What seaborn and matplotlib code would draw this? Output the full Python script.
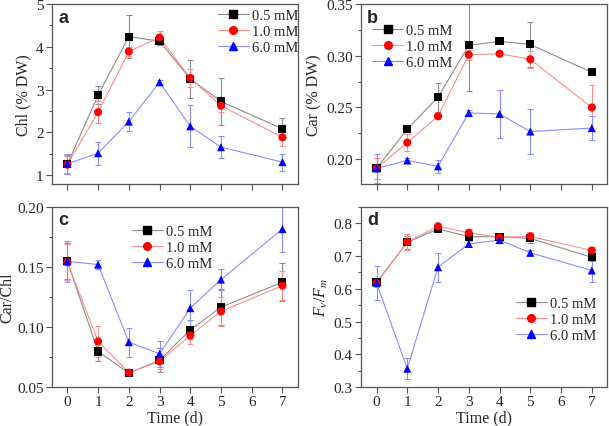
import numpy as np
import pandas as pd
import matplotlib
matplotlib.use("Agg")
import matplotlib.pyplot as plt
from matplotlib.lines import Line2D
from matplotlib.ticker import MultipleLocator
import seaborn as sns

days = [0, 1, 2, 3, 4, 5, 7]
treatments = ["0.5 mM", "1.0 mM", "6.0 mM"]

# Chl (% DW)
chl_05 = [1.25, 2.87, 4.24, 4.13, 3.25, 2.72, 2.08]
chl_10 = [1.24, 2.47, 3.89, 4.22, 3.27, 2.62, 1.88]
chl_60 = [1.26, 1.51, 2.25, 3.17, 2.14, 1.65, 1.30]
chl_05_err = [0.22, 0.22, 0.50, 0.08, 0.45, 0.54, 0.25]
chl_10_err = [0.20, 0.25, 0.10, 0.16, 0.20, 0.15, 0.20]
chl_60_err = [0.23, 0.27, 0.23, 0.05, 0.49, 0.26, 0.20]

# Car (% DW)
car_05 = [0.191, 0.229, 0.260, 0.310, 0.314, 0.311, 0.284]
car_10 = [0.191, 0.216, 0.2415, 0.301, 0.302, 0.2966, 0.250]
car_60 = [0.191, 0.1987, 0.193, 0.2447, 0.2437, 0.2267, 0.230]
car_05_err = [0.010, 0.003, 0.014, 0.044, 0.002, 0.022, 0.002]
car_10_err = [0.010, 0.008, 0.003, 0.005, 0.002, 0.008, 0.022]
car_60_err = [0.014, 0.002, 0.006, 0.003, 0.023, 0.022, 0.012]

# Car/Chl
ratio_05 = [0.1547, 0.0796, 0.0616, 0.0722, 0.0976, 0.1165, 0.1373]
ratio_10 = [0.154, 0.088, 0.062, 0.0713, 0.093, 0.113, 0.1345]
ratio_60 = [0.1547, 0.152, 0.0874, 0.0777, 0.1157, 0.1395, 0.1816]
ratio_05_err = [0.015, 0.008, 0.002, 0.010, 0.008, 0.015, 0.016]
ratio_10_err = [0.015, 0.013, 0.002, 0.006, 0.007, 0.012, 0.012]
ratio_60_err = [0.017, 0.004, 0.012, 0.011, 0.015, 0.009, 0.019]

# Fv/Fm
fvfm_05 = [0.620, 0.742, 0.783, 0.759, 0.759, 0.754, 0.696]
fvfm_10 = [0.617, 0.743, 0.791, 0.771, 0.757, 0.760, 0.717]
fvfm_60 = [0.618, 0.356, 0.666, 0.737, 0.749, 0.710, 0.656]
fvfm_05_err = [0.010, 0.020, 0.008, 0.010, 0.008, 0.015, 0.010]
fvfm_10_err = [0.010, 0.025, 0.008, 0.012, 0.008, 0.012, 0.010]
fvfm_60_err = [0.053, 0.033, 0.044, 0.010, 0.008, 0.008, 0.036]

sns.set_style("ticks")
plt.rcParams["font.family"] = ["Liberation Serif", "DejaVu Serif"]
plt.rcParams["mathtext.fontset"] = "custom"
plt.rcParams["mathtext.it"] = "Liberation Serif:italic"
plt.rcParams["mathtext.rm"] = "Liberation Serif"
plt.rcParams["font.size"] = 10

dark = {"0.5 mM": "black", "1.0 mM": "red", "6.0 mM": "blue"}
light = {"0.5 mM": "#8c8c8c", "1.0 mM": "#ff8c8c", "6.0 mM": "#8c8cff"}
markers = {"0.5 mM": "s", "1.0 mM": "o", "6.0 mM": "^"}


def make_df(vals, errs):
    rows = []
    for t, v, e in zip(treatments, vals, errs):
        for d, y, err in zip(days, v, e):
            rows.append({"day": d, "value": y, "err": err, "treatment": t})
    return pd.DataFrame(rows)


panels = [
    ("a", make_df([chl_05, chl_10, chl_60], [chl_05_err, chl_10_err, chl_60_err]),
     "Chl (% DW)", (0.79, 5.0), 0.5, [1, 2, 3, 4, 5], "%g", (0.675, 0.975)),
    ("b", make_df([car_05, car_10, car_60], [car_05_err, car_10_err, car_60_err]),
     "Car (% DW)", (0.176, 0.35), 0.025, [0.20, 0.25, 0.30, 0.35], "%.2f", (0.045, 0.89)),
    ("c", make_df([ratio_05, ratio_10, ratio_60], [ratio_05_err, ratio_10_err, ratio_60_err]),
     "Car/Chl", (0.05, 0.20), 0.025, [0.05, 0.10, 0.15, 0.20], "%.2f", (0.325, 0.9)),
    ("d", make_df([fvfm_05, fvfm_10, fvfm_60], [fvfm_05_err, fvfm_10_err, fvfm_60_err]),
     "$F_v/F_m$", (0.3, 0.85), 0.05, [0.3, 0.4, 0.5, 0.6, 0.7, 0.8], "%.1f", (0.63, 0.5)),
]

fig = plt.figure(figsize=(6.09, 4.27), dpi=100)
boxes = [
    [0.0854, 0.567, 0.4036, 0.421],
    [0.593, 0.567, 0.404, 0.421],
    [0.0854, 0.0913, 0.4036, 0.4217],
    [0.593, 0.0913, 0.404, 0.4217],
]

for i, (label, df, ylabel, ylim, minor, ticks, fmt, anchor) in enumerate(panels):
    ax = fig.add_axes(boxes[i])
    for t in treatments:
        sub = df[df["treatment"] == t]
        ax.errorbar(sub["day"], sub["value"], yerr=sub["err"], fmt="none",
                    ecolor=light[t], elinewidth=0.8, capsize=2.5, capthick=0.8, zorder=2)
    sns.lineplot(data=df, x="day", y="value", hue="treatment", palette=light,
                 linewidth=0.8, legend=False, ax=ax, zorder=3)
    sns.scatterplot(data=df, x="day", y="value", hue="treatment", style="treatment",
                    palette=dark, markers=markers, s=34, edgecolor="none",
                    legend=False, ax=ax, zorder=4)
    ax.set_xlim(-0.5, 7.5)
    ax.set_xticks(range(8))
    ax.yaxis.set_minor_locator(MultipleLocator(minor))
    ax.set_yticks(ticks)
    ax.set_yticklabels([fmt % v for v in ticks])
    ax.set_ylim(*ylim)
    ax.tick_params(direction="out", length=4, width=0.8, color="#555555", labelsize=11, pad=2)
    ax.tick_params(which="minor", direction="out", length=2.5, width=0.8, color="#555555")
    for sp in ax.spines.values():
        sp.set_color("#555555")
        sp.set_linewidth(0.9)
    ax.set_ylabel(ylabel, fontsize=11.5, labelpad=1 if i == 2 else 3)
    if i < 2:
        ax.set_xticklabels([])
        ax.set_xlabel("")
    else:
        ax.set_xlabel("Time (d)", fontsize=11.5, labelpad=1)
    ax.text(0.025, 0.975, label, transform=ax.transAxes, fontsize=13, fontweight="bold",
            family="Liberation Sans", ha="left", va="top")
    handles = [Line2D([0], [0], color=light[t], lw=0.8, marker=markers[t],
                      markerfacecolor=dark[t], markeredgecolor=dark[t], markersize=5.5)
               for t in treatments]
    ax.legend(handles, treatments, loc="upper left", bbox_to_anchor=anchor, frameon=False,
              fontsize=10.5, handlelength=2.1, handletextpad=0.25, labelspacing=0.2,
              borderaxespad=0, borderpad=0)

fig.savefig("out.png", dpi=100)
